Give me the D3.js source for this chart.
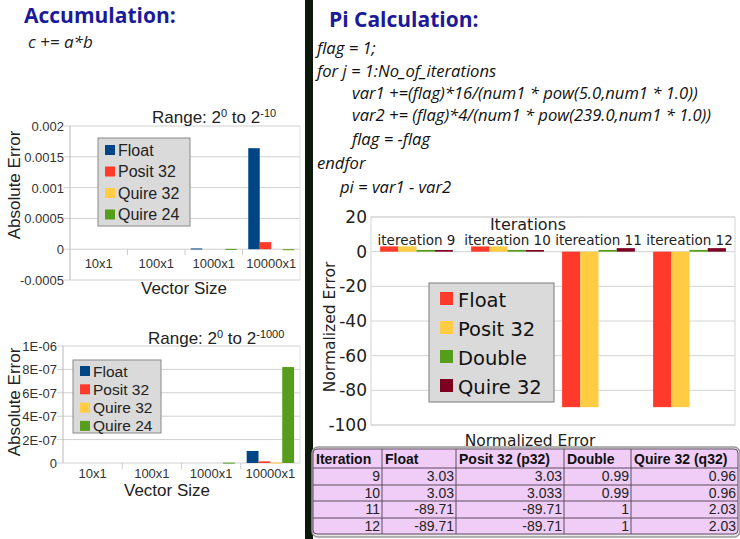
<!DOCTYPE html>
<html>

<head>
  <title>Accumulation and Pi Calculation</title>
  <style>
    body { margin: 0; background: #fff; }
    text { fill: #222; }
  </style>
</head>

<body>
  <svg id="svg"></svg>

  <script src="https://d3js.org/d3.v7.min.js"></script>
  <script>
    // accumulation charts
    const vectorSizes = ["10x1", "100x1", "1000x1", "10000x1"];
    const accumSeries = ["Float", "Posit 32", "Quire 32", "Quire 24"];
    const accumColors = ["#004586", "#ff3a2a", "#ffcc44", "#579d1c"];

    // Range 2^0 to 2^-10
    const r10Float = [0, 0, 0.000012, 0.00164];
    const r10Posit = [0, 0, 0, 0.000115];
    const r10Quire32 = [0, 0, 0, 0];
    const r10Quire24 = [0, 0, 0.000005, -0.000005];
    const r10Ticks = [-0.0005, 0, 0.0005, 0.001, 0.0015, 0.002];

    // Range 2^0 to 2^-1000
    const r1000Float = [0, 0, 0, 1.03e-7];
    const r1000Posit = [0, 0, 0, 1.4e-8];
    const r1000Quire32 = [0, 0, 0, 4e-9];
    const r1000Quire24 = [0, 0, 3e-9, 8.2e-7];
    const r1000Ticks = [0, 2e-7, 4e-7, 6e-7, 8e-7, 1e-6];

    // pi calculation
    const iterLabels = ["itereation 9", "itereation 10", "itereation 11", "itereation 12"];
    const iterations = [9, 10, 11, 12];
    const piSeries = ["Float", "Posit 32", "Double", "Quire 32"];
    const piColors = ["#ff3a2a", "#ffcc44", "#579d1c", "#7e0021"];
    const piFloat = [3.03, 3.03, -89.71, -89.71];
    const piPosit = [3.03, 3.033, -89.71, -89.71];
    const piDouble = [0.99, 0.99, 1, 1];
    const piQuire = [0.96, 0.96, 2.03, 2.03];
    const piTicks = [-100, -80, -60, -40, -20, 0, 20];
    const tableHeader = ["Iteration", "Float", "Posit 32 (p32)", "Double", "Quire 32 (q32)"];

    const codeLines = [
      { t: "flag = 1;", x: 317, y: 54 },
      { t: "for j = 1:No_of_iterations", x: 317, y: 77 },
      { t: "var1 +=(flag)*16/(num1 * pow(5.0,num1 * 1.0))", x: 352, y: 99 },
      { t: "var2 += (flag)*4/(num1 * pow(239.0,num1 * 1.0))", x: 352, y: 121 },
      { t: "flag = -flag", x: 352, y: 145 },
      { t: "endfor", x: 317, y: 169 },
      { t: "pi = var1 - var2", x: 340, y: 193 }
    ];

    const W = 740, H = 539;
    const svg = d3.select("#svg").attr("width", W).attr("height", H);
    const sans = "'Liberation Sans', Arial, sans-serif";
    const dejavu = "'DejaVu Sans', sans-serif";

    // divider
    svg.append("rect").attr("x", 305).attr("y", 0).attr("width", 8).attr("height", H).attr("fill", "#0c180c");

    // headings
    svg.append("text").attr("x", 24).attr("y", 23)
      .style("font", "bold 21px 'Open Sans', sans-serif").style("fill", "#1a1a9a")
      .text("Accumulation:");
    svg.append("text").attr("x", 28).attr("y", 48)
      .style("font", "italic 17px 'Open Sans', sans-serif").style("fill", "#222")
      .text("c += a*b");
    svg.append("text").attr("x", 329).attr("y", 27)
      .style("font", "bold 21px 'Open Sans', sans-serif").style("fill", "#1a1a9a")
      .text("Pi Calculation:");
    svg.selectAll(".code").data(codeLines).join("text")
      .attr("class", "code")
      .attr("x", d => d.x).attr("y", d => d.y)
      .style("font", "italic 16.6px 'Open Sans', sans-serif").style("fill", "#111")
      .text(d => d.t);

    function expFmt(d) {
      if (d === 0) return "0";
      let [m, e] = d.toExponential(0).toUpperCase().split("E");
      let sign = e[0];
      let digits = e.slice(1).padStart(2, "0");
      return m + "E" + sign + digits;
    }

    function accumChart(cfg) {
      const g = svg.append("g");
      const x = d3.scaleBand().domain(vectorSizes).range([cfg.left, cfg.right]);
      const xs = d3.scaleBand().domain(accumSeries).range([0, x.bandwidth()]).paddingOuter(0.5);
      const y = d3.scaleLinear().domain(d3.extent(cfg.ticks)).range([cfg.bottom, cfg.top]);

      // grid
      g.selectAll(".grid").data(cfg.ticks).join("line")
        .attr("x1", cfg.left - 6).attr("x2", cfg.right)
        .attr("y1", d => y(d)).attr("y2", d => y(d))
        .attr("stroke", "#d0d0d0");
      g.append("line").attr("x1", cfg.left).attr("x2", cfg.left)
        .attr("y1", cfg.top).attr("y2", cfg.bottom).attr("stroke", "#b8b8b8");
      g.append("line").attr("x1", cfg.right).attr("x2", cfg.right)
        .attr("y1", cfg.top).attr("y2", cfg.bottom).attr("stroke", "#e0e0e0");

      // y labels
      g.selectAll(".yl").data(cfg.ticks).join("text")
        .attr("x", cfg.left - 6).attr("y", d => y(d) + 5)
        .attr("text-anchor", "end")
        .style("font", "13px " + sans).style("fill", "#333")
        .text(cfg.fmt);

      // category separators and labels
      g.selectAll(".sep").data(vectorSizes.slice(1)).join("line")
        .attr("x1", d => x(d)).attr("x2", d => x(d))
        .attr("y1", y(0)).attr("y2", y(0) + 6).attr("stroke", "#ccc");
      g.selectAll(".xl").data(vectorSizes).join("text")
        .attr("x", d => x(d) + x.bandwidth() / 2).attr("y", cfg.xLabelY)
        .attr("text-anchor", "middle")
        .style("font", "13px " + sans).style("fill", "#333")
        .text(d => d);

      // bars
      cfg.series.forEach((vals, si) => {
        g.selectAll(".b" + si).data(vals).join("rect")
          .attr("x", (d, i) => x(vectorSizes[i]) + xs(accumSeries[si]))
          .attr("width", xs.bandwidth())
          .attr("y", d => Math.min(y(d), y(0)))
          .attr("height", d => Math.max(Math.abs(y(d) - y(0)), d === 0 ? 0 : 1))
          .attr("fill", accumColors[si]);
      });

      // titles
      const rt = g.append("text").attr("x", cfg.titleX).attr("y", cfg.titleY)
        .style("font", "17px " + sans).style("fill", "#222");
      rt.append("tspan").text("Range: 2");
      rt.append("tspan").attr("dy", -6).style("font-size", "11px").text("0");
      rt.append("tspan").attr("dy", 6).text(" to 2");
      rt.append("tspan").attr("dy", -6).style("font-size", "11px").text(cfg.exp);

      g.append("text")
        .attr("transform", `translate(${cfg.yTitleX},${cfg.yTitleY}) rotate(-90)`)
        .attr("text-anchor", "middle")
        .style("font", "17px " + sans).style("fill", "#222")
        .text("Absolute Error");
      g.append("text").attr("x", cfg.xTitleX).attr("y", cfg.xTitleY)
        .attr("text-anchor", "middle")
        .style("font", "17px " + sans).style("fill", "#222")
        .text("Vector Size");

      // legend
      const lg = g.append("g");
      lg.append("rect").attr("x", cfg.leg.x).attr("y", cfg.leg.y)
        .attr("width", cfg.leg.w).attr("height", cfg.leg.h)
        .attr("fill", "#dadada").attr("stroke", "#8a8a8a");
      accumSeries.forEach((s, i) => {
        const ly = cfg.leg.y + cfg.leg.pad + i * cfg.leg.step;
        lg.append("rect").attr("x", cfg.leg.x + 7).attr("y", ly - 5)
          .attr("width", 10).attr("height", 10).attr("fill", accumColors[i]);
        lg.append("text").attr("x", cfg.leg.x + 20).attr("y", ly + 5.5)
          .style("font", cfg.leg.font + "px " + sans).style("fill", "#222")
          .text(s);
      });
    }

    accumChart({
      left: 70, right: 300, top: 126, bottom: 280,
      ticks: r10Ticks, fmt: d => String(d),
      series: [r10Float, r10Posit, r10Quire32, r10Quire24],
      xLabelY: 268, titleX: 152, titleY: 123, exp: "-10",
      yTitleX: 20, yTitleY: 185, xTitleX: 184, xTitleY: 294,
      leg: { x: 98, y: 138, w: 92, h: 88, pad: 12, step: 21.5, font: 16 }
    });

    accumChart({
      left: 63, right: 300, top: 346, bottom: 463,
      ticks: r1000Ticks, fmt: expFmt,
      series: [r1000Float, r1000Posit, r1000Quire32, r1000Quire24],
      xLabelY: 478, titleX: 148, titleY: 344, exp: "-1000",
      yTitleX: 20, yTitleY: 402, xTitleX: 167, xTitleY: 496,
      leg: { x: 73, y: 360, w: 88, h: 73, pad: 11, step: 18.3, font: 15.5 }
    });

    // pi chart
    const pg = svg.append("g");
    const px = d3.scaleBand().domain(iterLabels).range([371, 735]);
    const pxs = d3.scaleBand().domain(piSeries).range([0, px.bandwidth()]).paddingOuter(0.5);
    const py = d3.scaleLinear().domain([-100, 20]).range([425, 217]);

    pg.append("rect").attr("x", 371).attr("y", 217).attr("width", 364).attr("height", 208)
      .attr("fill", "none").attr("stroke", "#d4d4d4");
    pg.selectAll(".grid").data(piTicks).join("line")
      .attr("x1", 371).attr("x2", 735)
      .attr("y1", d => py(d)).attr("y2", d => py(d))
      .attr("stroke", "#d4d4d4");
    pg.selectAll(".yl").data(piTicks).join("text")
      .attr("x", 367).attr("y", d => py(d) + 6)
      .attr("text-anchor", "end")
      .style("font", "17px " + dejavu).style("fill", "#222")
      .text(d => d);

    [piFloat, piPosit, piDouble, piQuire].forEach((vals, si) => {
      pg.selectAll(".pb" + si).data(vals).join("rect")
        .attr("x", (d, i) => px(iterLabels[i]) + pxs(piSeries[si]))
        .attr("width", pxs.bandwidth())
        .attr("y", d => Math.min(py(d), py(0)))
        .attr("height", d => Math.abs(py(d) - py(0)))
        .attr("fill", piColors[si]);
    });

    pg.selectAll(".cl").data(iterLabels).join("text")
      .attr("x", d => px(d) + px.bandwidth() / 2).attr("y", 245)
      .attr("text-anchor", "middle")
      .style("font", "13.5px " + dejavu).style("fill", "#222")
      .text(d => d);
    pg.append("text").attr("x", 528).attr("y", 230).attr("text-anchor", "middle")
      .style("font", "16px " + dejavu).style("fill", "#222").text("Iterations");
    pg.append("text")
      .attr("transform", "translate(335,327) rotate(-90)")
      .attr("text-anchor", "middle")
      .style("font", "15.5px " + dejavu).style("fill", "#222")
      .text("Normalized Error");
    pg.append("text").attr("x", 530).attr("y", 446).attr("text-anchor", "middle")
      .style("font", "15.5px " + dejavu).style("fill", "#222").text("Normalized Error");

    // pi legend
    pg.append("rect").attr("x", 429).attr("y", 283).attr("width", 125).attr("height", 119)
      .attr("fill", "#dadada").attr("stroke", "#7a7a7a");
    piSeries.forEach((s, i) => {
      const ly = 299 + i * 29;
      pg.append("rect").attr("x", 440).attr("y", ly - 7)
        .attr("width", 13).attr("height", 13).attr("fill", piColors[i]);
      pg.append("text").attr("x", 458).attr("y", ly + 7.5)
        .style("font", "19.5px " + dejavu).style("fill", "#111")
        .text(s);
    });

    // table
    const tg = svg.append("g");
    const colEdges = [313, 382, 456, 564, 631, 738];
    const rowEdges = [449, 468, 485, 501, 518, 534];
    const tableRows = iterations.map((it, i) => [it, piFloat[i], piPosit[i], piDouble[i], piQuire[i]]);

    tg.append("rect").attr("x", 312).attr("y", 447).attr("width", 428).attr("height", 90)
      .attr("rx", 6).attr("fill", "#e8e8e8").attr("stroke", "#9a9a9a").attr("stroke-width", 1.5);
    tg.append("rect").attr("x", colEdges[0]).attr("y", rowEdges[0])
      .attr("width", colEdges[5] - colEdges[0]).attr("height", rowEdges[5] - rowEdges[0])
      .attr("rx", 4).attr("fill", "#efcdf7").attr("stroke", "#5e4a5e");
    tg.selectAll(".rl").data(rowEdges.slice(1, 5)).join("line")
      .attr("x1", colEdges[0]).attr("x2", colEdges[5])
      .attr("y1", d => d).attr("y2", d => d).attr("stroke", "#5e4a5e");
    tg.selectAll(".cl").data(colEdges.slice(1, 5)).join("line")
      .attr("x1", d => d).attr("x2", d => d)
      .attr("y1", rowEdges[0]).attr("y2", rowEdges[5]).attr("stroke", "#5e4a5e");
    tg.selectAll(".th").data(tableHeader).join("text")
      .attr("x", (d, i) => colEdges[i] + 3).attr("y", 464)
      .style("font", "bold 14px " + sans).style("fill", "#111")
      .text(d => d);
    tableRows.forEach((row, r) => {
      tg.selectAll(".td" + r).data(row).join("text")
        .attr("x", (d, i) => colEdges[i + 1] - 2)
        .attr("y", rowEdges[r + 1] + 13)
        .attr("text-anchor", "end")
        .style("font", "14px " + sans).style("fill", "#222")
        .text(d => String(d));
    });
  </script>
</body>

</html>
